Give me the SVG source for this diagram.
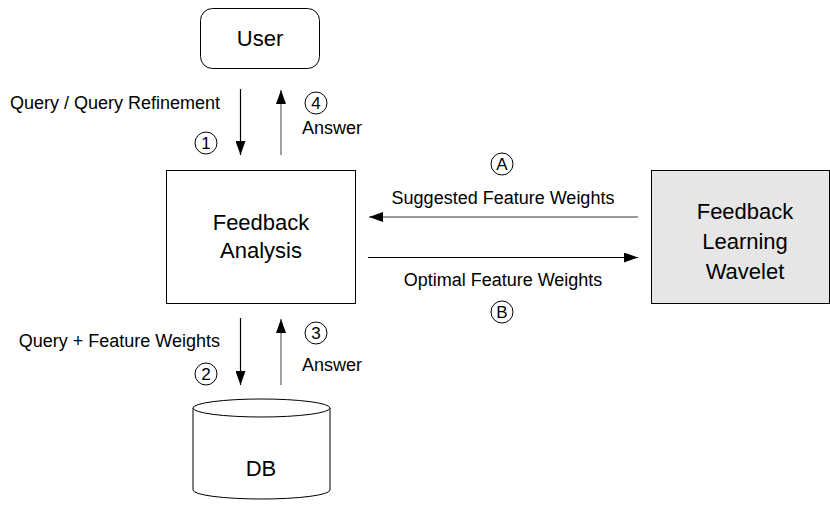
<svg xmlns="http://www.w3.org/2000/svg" width="830" height="506" viewBox="0 0 830 506">
<defs>
<marker id="ah" viewBox="0 0 14 10" refX="14" refY="5" markerWidth="14" markerHeight="10" markerUnits="userSpaceOnUse" orient="auto">
<path d="M0,0 L14,5 L0,10 z" fill="#000"/>
</marker>
<style>
.box{fill:#fff;stroke:#000;stroke-width:1}
.t{font-family:"Liberation Sans",Arial,sans-serif;fill:#000}
.lbl{font-size:18px}
.big{font-size:22px;text-anchor:middle}
.num{font-size:17px;text-anchor:middle}
.c{fill:none;stroke:#000;stroke-width:1}
.blk{stroke:#000;stroke-width:1.2;fill:none}
.gry{stroke:#777;stroke-width:1.4;fill:none}
</style>
</defs>
<rect width="830" height="506" fill="#fff"/>
<g id="user">
<rect class="box" x="200.5" y="8.5" width="119" height="60" rx="12"/>
<text class="t big" x="260" y="46">User</text>
</g>
<g id="feedback-analysis">
<rect class="box" x="166.5" y="170.5" width="189" height="133"/>
<text class="t big" x="261" y="230">Feedback</text>
<text class="t big" x="261" y="258">Analysis</text>
</g>
<g id="feedback-learning">
<rect x="651.5" y="170.5" width="178" height="133" fill="#e6e6e6" stroke="#000"/>
<text class="t big" x="745" y="219">Feedback</text>
<text class="t big" x="745" y="249">Learning</text>
<text class="t big" x="745" y="279">Wavelet</text>
</g>
<g id="db">
<path class="box" d="M193,408 L193,490 A68.5,9 0 0 0 330,490 L330,408"/>
<ellipse class="box" cx="261.5" cy="408" rx="68.5" ry="9"/>
<text class="t big" x="261" y="476">DB</text>
</g>
<g id="connectors">
<line class="blk" x1="240.5" y1="89" x2="240.5" y2="155" marker-end="url(#ah)"/>
<line class="gry" x1="281" y1="155" x2="281" y2="90" marker-end="url(#ah)"/>
<line class="gry" x1="638" y1="217" x2="369" y2="217" marker-end="url(#ah)"/>
<line class="blk" x1="368" y1="257.5" x2="638" y2="257.5" marker-end="url(#ah)"/>
<line class="blk" x1="240.5" y1="318" x2="240.5" y2="385" marker-end="url(#ah)"/>
<line class="gry" x1="281" y1="385" x2="281" y2="319" marker-end="url(#ah)"/>
</g>
<g id="labels">
<text class="t lbl" x="220" y="109" text-anchor="end">Query / Query Refinement</text>
<circle class="c" cx="206" cy="143" r="11"/><text class="t num" x="206" y="149">1</text>
<circle class="c" cx="316" cy="103" r="11"/><text class="t num" x="316" y="109">4</text>
<text class="t lbl" x="302" y="134">Answer</text>
<circle class="c" cx="502" cy="164" r="11"/><text class="t num" x="502" y="170">A</text>
<text class="t lbl" x="503" y="204" text-anchor="middle">Suggested Feature Weights</text>
<text class="t lbl" x="503" y="286" text-anchor="middle">Optimal Feature Weights</text>
<circle class="c" cx="502" cy="312" r="11"/><text class="t num" x="502" y="318">B</text>
<text class="t lbl" x="220" y="347" text-anchor="end">Query + Feature Weights</text>
<circle class="c" cx="206" cy="374" r="11"/><text class="t num" x="206" y="380">2</text>
<circle class="c" cx="316" cy="333" r="11"/><text class="t num" x="316" y="339">3</text>
<text class="t lbl" x="302" y="371">Answer</text>
</g>
</svg>
